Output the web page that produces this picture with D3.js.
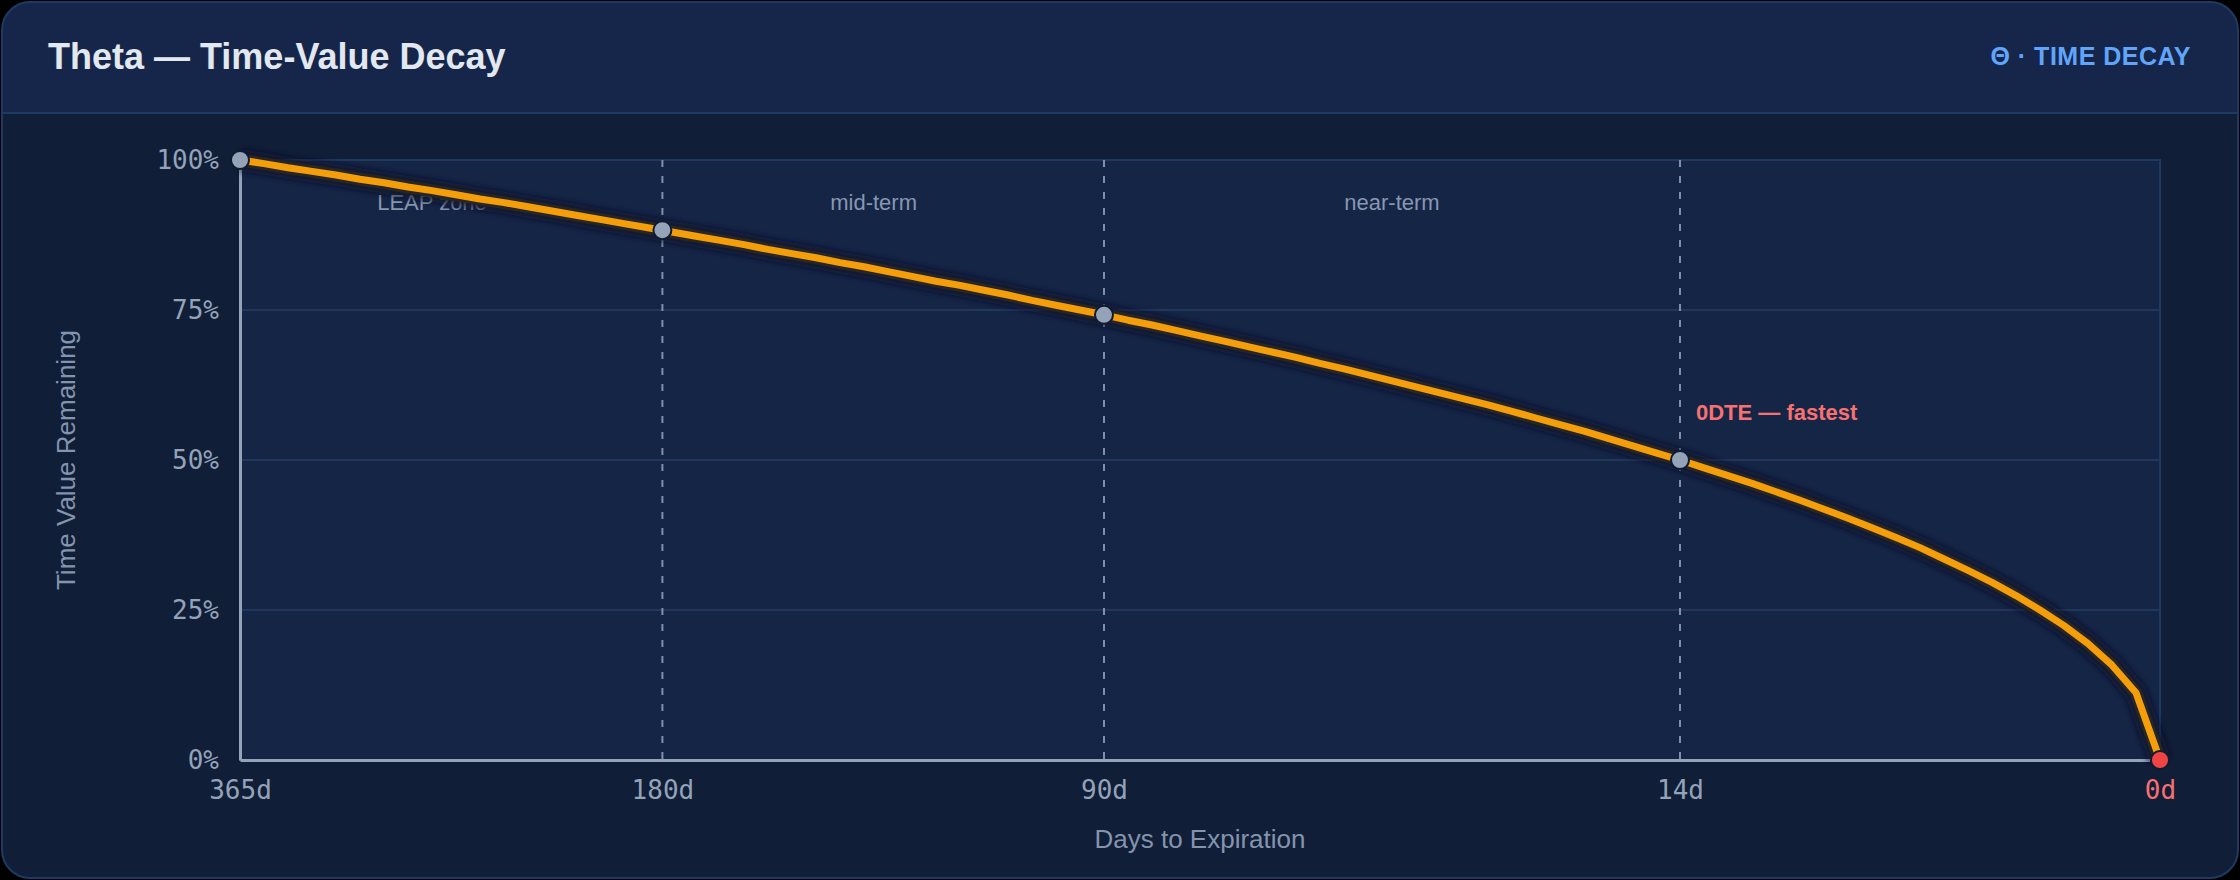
<!DOCTYPE html>
<html>
<head>
<meta charset="utf-8">
<script src="https://cdn.jsdelivr.net/npm/d3@7/dist/d3.min.js"></script>
<style>
  html, body { margin: 0; padding: 0; background: #000; }
  svg { display: block; }
</style>
</head>
<body>
<svg id="chart" width="2240" height="880"></svg>
<script>
// ---------- data ----------
const titleText = "Theta \u2014 Time-Value Decay";
const badgeText = "\u0398 \u00b7 TIME DECAY";
const xTitle = "Days to Expiration";
const yTitle = "Time Value Remaining";

// x position = elapsed fraction of the option's life
const tickLabels = ["365d", "180d", "90d", "14d", "0d"];
const tickElapsed = [0, 0.22, 0.45, 0.75, 1];
const markerValues = [100, 88.3, 74.2, 50, 0];

const yTicks = [0, 25, 50, 75, 100];

const zoneNames = ["LEAP zone", "mid-term", "near-term"];
const zoneElapsed = [0.1, 0.33, 0.6];

// sampled decay curve
const curveElapsed = [
  0, 0.0125, 0.025, 0.0375, 0.05, 0.0625, 0.075, 0.0875, 0.1, 0.1125,
  0.125, 0.1375, 0.15, 0.1625, 0.175, 0.1875, 0.2, 0.2125, 0.225, 0.2375,
  0.25, 0.2625, 0.275, 0.2875, 0.3, 0.3125, 0.325, 0.3375, 0.35, 0.3625,
  0.375, 0.3875, 0.4, 0.4125, 0.425, 0.4375, 0.45, 0.4625, 0.475, 0.4875,
  0.5, 0.5125, 0.525, 0.5375, 0.55, 0.5625, 0.575, 0.5875, 0.6, 0.6125,
  0.625, 0.6375, 0.65, 0.6625, 0.675, 0.6875, 0.7, 0.7125, 0.725, 0.7375,
  0.75, 0.7625, 0.775, 0.7875, 0.8, 0.8125, 0.825, 0.8375, 0.85, 0.8625,
  0.875, 0.8875, 0.9, 0.9125, 0.925, 0.9375, 0.95, 0.9625, 0.975, 0.9875, 1
];
const curveValue = [
  100, 99.4, 98.7, 98.1, 97.5, 96.8, 96.2, 95.5, 94.9, 94.2,
  93.5, 92.9, 92.2, 91.5, 90.8, 90.1, 89.4, 88.7, 88.0, 87.3,
  86.6, 85.9, 85.1, 84.4, 83.7, 82.9, 82.2, 81.4, 80.6, 79.8,
  79.1, 78.3, 77.5, 76.6, 75.8, 75.0, 74.2, 73.3, 72.5, 71.6,
  70.7, 69.8, 68.9, 68.0, 67.1, 66.1, 65.2, 64.2, 63.2, 62.2,
  61.2, 60.2, 59.2, 58.1, 57.0, 55.9, 54.8, 53.6, 52.4, 51.2,
  50.0, 48.7, 47.4, 46.1, 44.7, 43.3, 41.8, 40.3, 38.7, 37.1,
  35.4, 33.5, 31.6, 29.6, 27.4, 25.0, 22.4, 19.4, 15.8, 11.2, 0
];

// ---------- drawing ----------
const W = 2240, H = 880;
const plot = { left: 240, top: 160, right: 2160, bottom: 760 };

const svg = d3.select("#chart");
const defs = svg.append("defs");

const shadow = defs.append("filter").attr("id", "lineShadow")
  .attr("x", "-10%").attr("y", "-10%").attr("width", "120%").attr("height", "130%");
shadow.append("feGaussianBlur").attr("stdDeviation", 3);

const clipTop = defs.append("clipPath").attr("id", "headerClip");
clipTop.append("rect").attr("x", 2).attr("y", 2).attr("width", W - 4).attr("height", 111);

// card
svg.append("rect")
  .attr("x", 2).attr("y", 2).attr("width", W - 4).attr("height", H - 4)
  .attr("rx", 28).attr("fill", "#111e38");
// header band
svg.append("rect")
  .attr("x", 2).attr("y", 2).attr("width", W - 4).attr("height", H - 4)
  .attr("rx", 28).attr("fill", "#16264a")
  .attr("clip-path", "url(#headerClip)");
svg.append("line")
  .attr("x1", 2).attr("x2", W - 2).attr("y1", 113).attr("y2", 113)
  .attr("stroke", "#1f3a62").attr("stroke-width", 2);
svg.append("rect")
  .attr("x", 2).attr("y", 2).attr("width", W - 4).attr("height", H - 4)
  .attr("rx", 28).attr("fill", "none")
  .attr("stroke", "#1e3a64").attr("stroke-width", 2);

svg.append("text")
  .attr("x", 48).attr("y", 69)
  .attr("font-family", "'Liberation Sans', Arial, sans-serif")
  .attr("font-size", 36).attr("font-weight", 700)
  .attr("fill", "#e2e8f0")
  .text(titleText);

svg.append("text")
  .attr("x", 2191).attr("y", 65)
  .attr("text-anchor", "end")
  .attr("font-family", "'Liberation Sans', Arial, sans-serif")
  .attr("font-size", 25).attr("font-weight", 700)
  .attr("letter-spacing", 0.5)
  .attr("fill", "#60a5fa")
  .text(badgeText);

// scales
const x = d3.scaleLinear().domain([0, 1]).range([plot.left, plot.right]);
const y = d3.scaleLinear().domain([0, 100]).range([plot.bottom, plot.top]);

// plot background
svg.append("rect")
  .attr("x", plot.left).attr("y", plot.top)
  .attr("width", plot.right - plot.left).attr("height", plot.bottom - plot.top)
  .attr("fill", "#152546")
  .attr("stroke", "#1f3a62").attr("stroke-width", 2);

// gridlines
svg.append("g").selectAll("line")
  .data(yTicks.filter(d => d > 0 && d < 100))
  .join("line")
  .attr("x1", plot.left).attr("x2", plot.right)
  .attr("y1", d => y(d)).attr("y2", d => y(d))
  .attr("stroke", "#22375c").attr("stroke-width", 2);

// zone labels (under the curve)
svg.append("g").selectAll("text")
  .data(zoneNames)
  .join("text")
  .attr("x", (d, i) => x(zoneElapsed[i]))
  .attr("y", 210)
  .attr("text-anchor", "middle")
  .attr("font-family", "'Liberation Sans', Arial, sans-serif")
  .attr("font-size", 22)
  .attr("fill", "#8797b0")
  .text(d => d);

// dashed dividers at interior ticks
svg.append("g").selectAll("line")
  .data(tickElapsed.slice(1, -1))
  .join("line")
  .attr("x1", d => x(d)).attr("x2", d => x(d))
  .attr("y1", plot.top).attr("y2", plot.bottom)
  .attr("stroke", "#94a3b8").attr("stroke-opacity", 0.85)
  .attr("stroke-width", 2).attr("stroke-dasharray", "7,9");

// axes
const yAxis = d3.axisLeft(y).tickValues(yTicks).tickFormat(d => d + "%").tickSize(0).tickPadding(21);
const gy = svg.append("g").attr("transform", `translate(${plot.left},0)`).call(yAxis);
gy.select(".domain").attr("stroke", "#94a3b8").attr("stroke-width", 3);
gy.selectAll("text")
  .attr("font-family", "'DejaVu Sans Mono', monospace")
  .attr("font-size", 26).attr("fill", "#94a3b8");

const xAxis = d3.axisBottom(x).tickValues(tickElapsed)
  .tickFormat((d, i) => tickLabels[i]).tickSize(0).tickPadding(21);
const gx = svg.append("g").attr("transform", `translate(0,${plot.bottom})`).call(xAxis);
gx.select(".domain").attr("stroke", "#94a3b8").attr("stroke-width", 3);
gx.selectAll("text")
  .attr("font-family", "'DejaVu Sans Mono', monospace")
  .attr("font-size", 26)
  .attr("fill", (d, i) => i === tickLabels.length - 1 ? "#f87171" : "#94a3b8");

// axis titles
svg.append("text")
  .attr("x", (plot.left + plot.right) / 2).attr("y", 848)
  .attr("text-anchor", "middle")
  .attr("font-family", "'Liberation Sans', Arial, sans-serif")
  .attr("font-size", 26).attr("fill", "#8494ad")
  .text(xTitle);

svg.append("text")
  .attr("transform", `translate(75,460) rotate(-90)`)
  .attr("text-anchor", "middle")
  .attr("font-family", "'Liberation Sans', Arial, sans-serif")
  .attr("font-size", 26).attr("fill", "#8494ad")
  .text(yTitle);

// curve: dark halo, then the orange line
const pts = curveElapsed.map((e, i) => [e, curveValue[i]]);
const line = d3.line().x(d => x(d[0])).y(d => y(d[1])).curve(d3.curveLinear);
svg.append("path")
  .datum(pts)
  .attr("d", line)
  .attr("fill", "none")
  .attr("stroke", "#0a1226")
  .attr("stroke-opacity", 0.75)
  .attr("stroke-width", 22)
  .attr("stroke-linejoin", "round")
  .attr("filter", "url(#lineShadow)");
svg.append("path")
  .datum(pts)
  .attr("d", line)
  .attr("fill", "none")
  .attr("stroke", "#262626")
  .attr("stroke-width", 13)
  .attr("stroke-linejoin", "round");
svg.append("path")
  .datum(pts)
  .attr("d", line)
  .attr("fill", "none")
  .attr("stroke", "#f59e0b")
  .attr("stroke-width", 7)
  .attr("stroke-linejoin", "round");

// annotation
svg.append("text")
  .attr("x", x(tickElapsed[3]) + 16).attr("y", 420)
  .attr("font-family", "'Liberation Sans', Arial, sans-serif")
  .attr("font-size", 22).attr("font-weight", 700)
  .attr("fill", "#f87171")
  .text("0DTE \u2014 fastest");

// markers
svg.append("g").selectAll("circle")
  .data(tickElapsed)
  .join("circle")
  .attr("cx", d => x(d))
  .attr("cy", (d, i) => y(markerValues[i]))
  .attr("r", 9)
  .attr("fill", (d, i) => i === tickElapsed.length - 1 ? "#ef4444" : "#94a3b8")
  .attr("stroke", "#0f1b33").attr("stroke-width", 2);
</script>
</body>
</html>
